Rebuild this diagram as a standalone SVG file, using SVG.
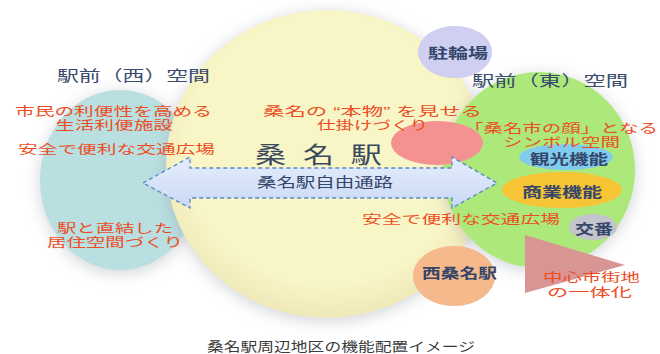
<svg xmlns="http://www.w3.org/2000/svg" width="660" height="354" viewBox="0 0 660 354">
<defs>
<filter id="sh" x="-20%" y="-20%" width="140%" height="140%">
<feGaussianBlur in="SourceAlpha" stdDeviation="8"/>
<feOffset dx="0" dy="3" result="b"/>
<feFlood flood-color="#8a8f98" flood-opacity="0.4"/>
<feComposite in2="b" operator="in"/>
<feMerge><feMergeNode/><feMergeNode in="SourceGraphic"/></feMerge>
</filter>
<filter id="sh2" x="-30%" y="-30%" width="160%" height="160%">
<feGaussianBlur in="SourceAlpha" stdDeviation="3"/>
<feFlood flood-color="#a09a80" flood-opacity="0.35"/>
<feComposite operator="in" in2="SourceGraphic"/>
<feComposite in="SourceGraphic" operator="over"/>
</filter>
<linearGradient id="ag" x1="0" y1="0" x2="0" y2="1">
<stop offset="0" stop-color="#e6eefc"/>
<stop offset="1" stop-color="#c8d8f4"/>
</linearGradient>
<radialGradient id="yg" cx="0.5" cy="0.45" r="0.55">
<stop offset="0.8" stop-color="#f8f5c6"/>
<stop offset="1" stop-color="#efe9b8"/>
</radialGradient>
</defs>
<style>
text{font-family:"Liberation Sans","Noto Sans CJK JP",sans-serif;dominant-baseline:central}
.r{fill:#ec4d24;font-size:12.5px}
.d{fill:#34466a;font-size:14px;font-weight:bold}
.h{fill:#3a4b6c;font-size:15px}
.c{fill:#3a3a3a;font-size:13px}
</style>
<rect width="660" height="354" fill="#ffffff"/>

<g id="west">
<ellipse cx="120" cy="180" rx="80" ry="90" fill="#b9dfe1" filter="url(#sh)"/>
</g>
<g id="station">
<ellipse cx="327" cy="164" rx="161" ry="154" fill="url(#yg)" filter="url(#sh)"/>
</g>
<g id="east">
<ellipse cx="539" cy="170" rx="96" ry="98" fill="#ade97a" filter="url(#sh)"/>
</g>
<g id="bike">
<ellipse cx="455" cy="52" rx="37" ry="26" fill="#cfcff2" filter="url(#sh2)"/>
<text class="d" x="428" y="53" textLength="60" lengthAdjust="spacingAndGlyphs">駐輪場</text>
</g>
<g id="real">
<ellipse cx="437" cy="143" rx="46" ry="22" fill="#f49292"/>
</g>
<g id="kanko">
<ellipse cx="566" cy="157" rx="47" ry="13" fill="#80ccef"/>
<text class="d" x="530" y="159" textLength="78" lengthAdjust="spacingAndGlyphs" style="font-size:13.5px">観光機能</text>
</g>
<g id="shogyo">
<ellipse cx="562" cy="190" rx="60" ry="18" fill="#f7c435"/>
<text class="d" x="522" y="192" textLength="80" lengthAdjust="spacingAndGlyphs">商業機能</text>
</g>
<g id="koban">
<ellipse cx="593" cy="227" rx="24" ry="13" fill="#c4c4cc"/>
<text class="d" x="575" y="229" textLength="38" lengthAdjust="spacingAndGlyphs">交番</text>
</g>
<g id="center">
<polygon points="525,235 525,293 625,265" fill="#d99494"/>
<text class="r"><tspan x="543" y="278" textLength="97" lengthAdjust="spacingAndGlyphs">中心市街地</tspan><tspan x="547" y="293" textLength="85" lengthAdjust="spacingAndGlyphs">の一体化</tspan></text>
</g>
<g id="nishikuwana">
<ellipse cx="454" cy="276" rx="41" ry="30" fill="#f6b98c" filter="url(#sh2)"/>
<text class="d" x="422" y="273" textLength="75" lengthAdjust="spacingAndGlyphs">西桑名駅</text>
</g>

<g id="connectors">
<polygon points="143,183 190,157 190,168 452,168 452,157 497,183 452,208 452,198 190,198 190,208" fill="url(#ag)" stroke="#5a86c9" stroke-width="1.3" stroke-dasharray="4,3"/>
<text x="257" y="182" textLength="136" lengthAdjust="spacingAndGlyphs" style="fill:#34466a;font-size:14px">桑名駅自由通路</text>
</g>

<g id="labels">
<text class="h" x="57" y="75" textLength="153" lengthAdjust="spacingAndGlyphs">駅前（西）空間</text>
<text class="h" x="472" y="80" textLength="156" lengthAdjust="spacingAndGlyphs">駅前（東）空間</text>
<text transform="translate(255,155) scale(1.35,1)" x="0 35.5 71" y="0" style="font-size:23px;fill:#3a4a5e">桑名駅</text>
<text class="r"><tspan x="15" y="112" textLength="197" lengthAdjust="spacingAndGlyphs">市民の利便性を高める</tspan><tspan x="55" y="126" textLength="118" lengthAdjust="spacingAndGlyphs">生活利便施設</tspan></text>
<text class="r" x="18" y="150" textLength="197" lengthAdjust="spacingAndGlyphs">安全で便利な交通広場</text>
<text class="r"><tspan x="57" y="229" textLength="116" lengthAdjust="spacingAndGlyphs">駅と直結した</tspan><tspan x="47" y="243" textLength="136" lengthAdjust="spacingAndGlyphs">居住空間づくり</tspan></text>
<text class="r"><tspan x="263" y="112" textLength="219" lengthAdjust="spacingAndGlyphs">桑名の “本物” を見せる</tspan><tspan x="317" y="126" textLength="111" lengthAdjust="spacingAndGlyphs">仕掛けづくり</tspan></text>
<text class="r"><tspan x="464" y="129" textLength="194" lengthAdjust="spacingAndGlyphs">「桑名市の顔」となる</tspan><tspan x="503" y="143" textLength="117" lengthAdjust="spacingAndGlyphs">シンボル空間</tspan></text>
<text class="r" x="362" y="220" textLength="198" lengthAdjust="spacingAndGlyphs">安全で便利な交通広場</text>
<text class="c" x="207" y="346" textLength="268" lengthAdjust="spacingAndGlyphs">桑名駅周辺地区の機能配置イメージ</text>
</g>
</svg>
